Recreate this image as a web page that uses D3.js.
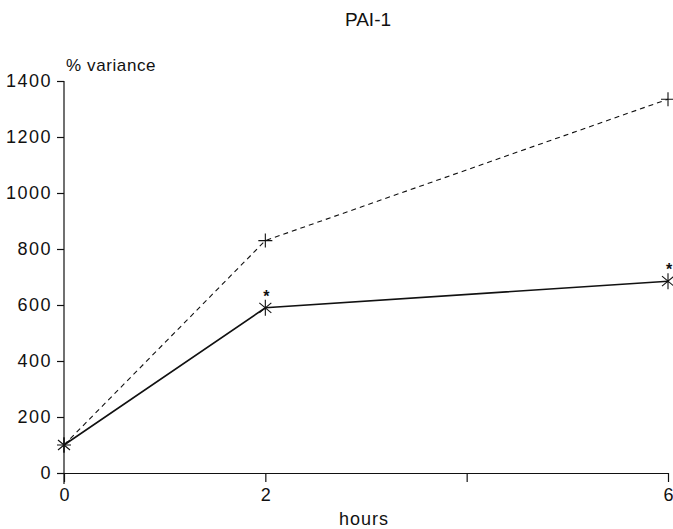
<!DOCTYPE html>
<html>
<head>
<meta charset="utf-8">
<title>PAI-1</title>
<style>
  body { margin: 0; background: #fff; }
  text { font-family: "Liberation Sans", Arial, Helvetica, sans-serif; fill: #111; }
</style>
</head>
<body>
<script src="https://d3js.org/d3.v7.min.js"></script>
<script>
// data
const hours = [0, 2, 6];
const treated = [100, 590, 685];      // solid line, asterisk markers
const control = [100, 830, 1335];     // dashed line, plus markers
const significant = [false, true, true];
const yTicks = [0, 200, 400, 600, 800, 1000, 1200, 1400];
const xTicks = [0, 2, 4, 6];
const xTickLabels = ["0", "2", "", "6"];

const w = 673, h = 529;
const svg = d3.select("body").append("svg")
  .attr("width", w).attr("height", h);

const x = d3.scaleLinear().domain([0, 6]).range([64, 668]);
const y = d3.scaleLinear().domain([0, 1400]).range([473, 81]);

// title
svg.append("text").attr("x", 368).attr("y", 26)
  .attr("text-anchor", "middle").style("font-size", "19px")
  .text("PAI-1");

// y axis
const yAxis = d3.axisLeft(y).tickValues(yTicks).tickFormat(d3.format("d"))
  .tickSize(7).tickPadding(5);
const gy = svg.append("g").attr("transform", "translate(64,0)").call(yAxis);
gy.select(".domain").remove();
gy.append("line").attr("x1", 0).attr("x2", 0).attr("y1", y(1400)).attr("y2", 484)
  .attr("stroke", "#111").attr("stroke-width", 1.2);
gy.selectAll(".tick line").attr("stroke", "#111").attr("stroke-width", 1.2);
gy.selectAll(".tick text")
  .style("font-size", "18px").style("letter-spacing", "1.5px")
  .attr("fill", "#111").attr("font-family", null);

svg.append("text").attr("x", 66).attr("y", 71)
  .style("font-size", "17px").style("letter-spacing", "0.6px")
  .text("% variance");

// x axis
const xAxis = d3.axisBottom(x).tickValues(xTicks)
  .tickFormat((d, i) => xTickLabels[i]).tickSize(9).tickPadding(6).tickSizeOuter(0);
const gx = svg.append("g").attr("transform", `translate(0,${y(0)})`).call(xAxis);
gx.select(".domain").attr("stroke", "#111").attr("stroke-width", 1.2);
gx.selectAll(".tick line").attr("stroke", "#111").attr("stroke-width", 1.2);
gx.selectAll(".tick text")
  .style("font-size", "18px").attr("fill", "#111").attr("font-family", null);

svg.append("text").attr("x", 364).attr("y", 525)
  .attr("text-anchor", "middle").style("font-size", "18px").style("letter-spacing", "1px")
  .text("hours");

// lines
const line = d3.line().x(d => x(d[0])).y(d => y(d[1]));
svg.append("path")
  .datum(hours.map((d, i) => [d, control[i]]))
  .attr("d", line).attr("fill", "none").attr("stroke", "#111")
  .attr("stroke-width", 1.1).attr("stroke-dasharray", "5,4");
svg.append("path")
  .datum(hours.map((d, i) => [d, treated[i]]))
  .attr("d", line).attr("fill", "none").attr("stroke", "#111")
  .attr("stroke-width", 1.6);

// plus markers (control)
const s = 7;
svg.selectAll(".plus").data(hours.map((d, i) => [d, control[i]]))
  .enter().append("path").attr("class", "plus")
  .attr("d", d => {
    const cx = x(d[0]), cy = y(d[1]);
    return `M${cx - s},${cy}H${cx + s}M${cx},${cy - s}V${cy + s}`;
  })
  .attr("stroke", "#111").attr("stroke-width", 1.1).attr("fill", "none");

// asterisk markers (treated)
svg.selectAll(".ast").data(hours.map((d, i) => [d, treated[i]]))
  .enter().append("path").attr("class", "ast")
  .attr("d", d => {
    const cx = x(d[0]), cy = y(d[1]);
    const a = 6, b = 5;
    return `M${cx},${cy - s - 1}V${cy + s + 1}` +
      `M${cx - a},${cy - b}L${cx + a},${cy + b}` +
      `M${cx - a},${cy + b}L${cx + a},${cy - b}`;
  })
  .attr("stroke", "#111").attr("stroke-width", 1.1).attr("fill", "none");

// significance stars
svg.selectAll(".sig").data(hours.map((d, i) => [d, treated[i], significant[i]]).filter(d => d[2]))
  .enter().append("text").attr("class", "sig")
  .attr("x", d => x(d[0]) + 1).attr("y", d => y(d[1]) - 6)
  .attr("text-anchor", "middle")
  .style("font-size", "16px").style("font-weight", "bold")
  .text("*");
</script>
</body>
</html>
